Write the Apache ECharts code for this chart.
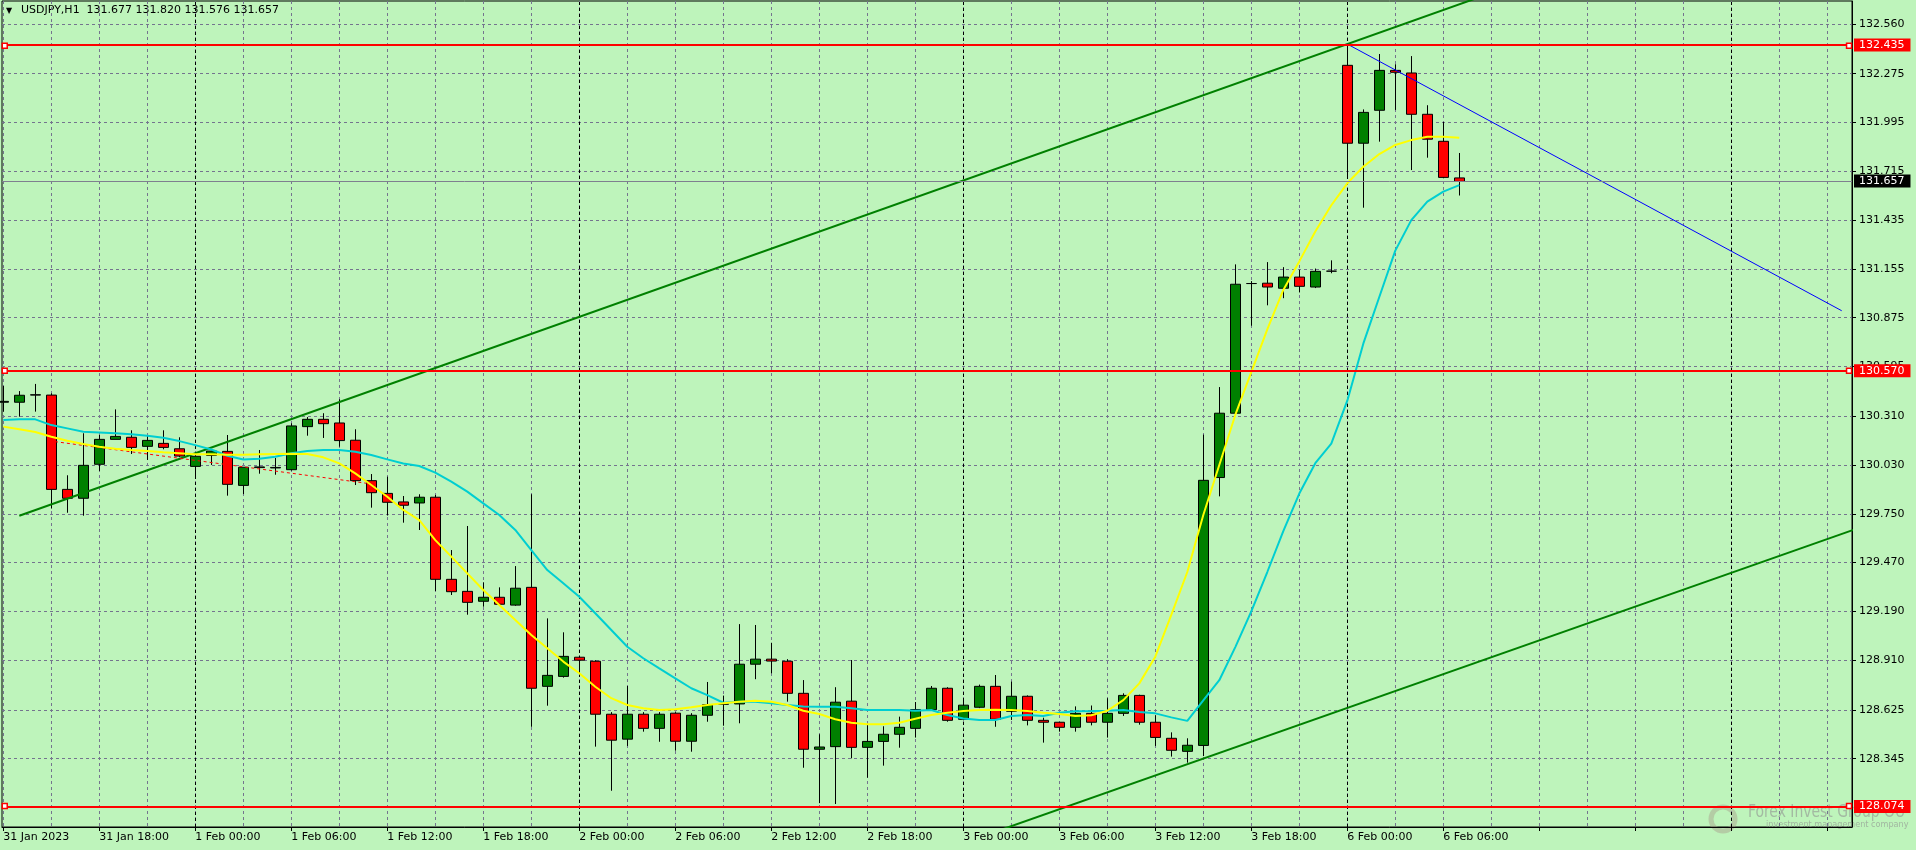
<!DOCTYPE html>
<html><head><meta charset="utf-8">
<script src="https://cdn.jsdelivr.net/npm/echarts@6/dist/echarts.min.js"></script>
<style>html,body{margin:0;padding:0;background:#bef4bb;overflow:hidden}#c{width:1916px;height:850px}</style>
</head><body><div id="c"></div>
<script>
// ---- data (H1 bars, index 0 = 31 Jan 2023 12:00) ----
const opens = [130.390,130.390,130.431,130.431,129.890,129.839,130.034,130.177,130.189,130.137,130.154,130.123,130.022,130.085,130.108,129.913,130.015,130.013,130.003,130.250,130.292,130.271,130.172,129.940,129.867,129.818,129.812,129.845,129.374,129.305,129.248,129.271,129.226,129.328,128.760,128.817,128.927,128.904,128.600,128.457,128.600,128.519,128.606,128.445,128.594,128.657,128.659,128.887,128.916,128.904,128.720,128.399,128.414,128.675,128.410,128.444,128.485,128.519,128.626,128.749,128.571,128.640,128.760,128.617,128.703,128.565,128.554,128.525,128.605,128.554,128.605,128.708,128.554,128.462,128.387,128.421,129.958,130.327,131.071,131.073,131.044,131.108,131.051,131.142,132.323,131.876,132.065,132.294,132.279,132.042,131.887,131.677];
const highs = [130.483,130.454,130.495,130.441,129.971,130.212,130.202,130.349,130.229,130.200,130.229,130.189,130.100,130.112,130.202,130.017,130.116,130.070,130.269,130.305,130.327,130.407,130.235,129.978,129.963,129.852,129.862,129.858,129.542,129.680,129.357,129.328,129.450,129.862,129.150,129.070,128.935,128.910,128.612,128.762,128.612,128.612,128.612,128.606,128.785,128.707,129.117,129.112,129.010,128.916,128.796,128.485,128.755,128.911,128.544,128.531,128.586,128.670,128.762,128.755,128.692,128.770,128.825,128.787,128.708,128.580,128.556,128.645,128.650,128.692,128.720,128.712,128.594,128.496,128.462,130.204,130.477,131.181,131.085,131.194,131.165,131.150,131.157,131.204,132.449,132.070,132.388,132.329,132.376,132.094,131.998,131.820];
const lows = [130.336,130.307,130.336,129.780,129.756,129.739,129.996,130.177,130.093,130.059,130.120,130.075,129.954,130.030,129.854,129.863,129.980,129.974,129.998,130.198,130.185,130.135,129.915,129.785,129.740,129.699,129.657,129.307,129.284,129.171,129.217,129.225,129.222,128.528,128.649,128.810,128.815,128.414,128.161,128.418,128.500,128.442,128.391,128.385,128.557,128.534,128.548,128.801,128.835,128.672,128.293,128.090,128.085,128.347,128.236,128.305,128.408,128.466,128.620,128.557,128.565,128.635,128.528,128.567,128.536,128.437,128.500,128.500,128.536,128.466,128.590,128.540,128.418,128.357,128.322,128.360,129.850,130.320,130.829,130.946,130.987,131.020,131.045,131.130,131.675,131.506,131.885,132.067,131.722,131.793,131.675,131.576];
const closes = [130.395,130.430,130.433,129.890,129.839,130.028,130.177,130.194,130.131,130.171,130.131,130.081,130.080,130.110,129.919,130.017,130.019,130.016,130.254,130.292,130.267,130.170,129.940,129.871,129.816,129.799,129.845,129.374,129.303,129.242,129.271,129.231,129.323,128.749,128.823,128.932,128.910,128.600,128.451,128.600,128.519,128.600,128.445,128.594,128.655,128.661,128.887,128.916,128.905,128.720,128.399,128.412,128.669,128.410,128.444,128.485,128.525,128.627,128.749,128.565,128.652,128.760,128.571,128.703,128.565,128.554,128.525,128.605,128.554,128.605,128.708,128.554,128.467,128.393,128.422,129.942,130.327,131.067,131.071,131.051,131.108,131.055,131.141,131.142,131.876,132.053,132.294,132.283,132.042,131.899,131.680,131.657];
const yellowMA = [130.250,130.235,130.219,130.192,130.169,130.150,130.135,130.123,130.116,130.110,130.103,130.097,130.091,130.091,130.089,130.089,130.091,130.093,130.095,130.093,130.074,130.039,129.982,129.915,129.848,129.772,129.714,129.599,129.504,129.408,129.313,129.227,129.141,129.054,128.978,128.902,128.835,128.758,128.692,128.653,128.634,128.624,128.628,128.640,128.653,128.663,128.672,128.678,128.672,128.653,128.620,128.601,128.571,128.551,128.542,128.542,128.551,128.574,128.596,128.609,128.618,128.624,128.625,128.624,128.618,128.609,128.601,128.590,128.594,128.620,128.681,128.777,128.930,129.170,129.416,129.743,130.030,130.317,130.563,130.808,131.034,131.198,131.370,131.520,131.646,131.741,131.814,131.866,131.894,131.913,131.913,131.908];
const cyanMA = [130.288,130.292,130.292,130.259,130.240,130.221,130.217,130.212,130.206,130.198,130.186,130.167,130.144,130.119,130.083,130.062,130.066,130.077,130.097,130.110,130.116,130.116,130.106,130.087,130.062,130.039,130.024,129.986,129.934,129.877,129.810,129.743,129.657,129.542,129.427,129.351,129.274,129.179,129.083,128.987,128.921,128.863,128.806,128.749,128.710,128.666,128.672,128.672,128.663,128.653,128.645,128.643,128.643,128.634,128.624,128.624,128.624,128.620,128.624,128.596,128.576,128.567,128.567,128.590,128.596,128.590,128.609,128.617,128.618,128.620,128.624,128.613,128.605,128.582,128.562,128.680,128.795,128.985,129.190,129.416,129.651,129.866,130.040,130.153,130.399,130.726,130.994,131.260,131.435,131.541,131.598,131.636];
// trend lines [barIndex, price]
const upperChannel = [[1, 129.739], [96, 132.836]];
const lowerChannel = [[60, 127.861], [116, 129.670]];
const blueTrend = [[84, 132.445], [114.9, 130.915]];
const redDashTrend = [[3.23, 130.164], [22.71, 129.925]];
// horizontal levels
const redLevels = [132.435, 130.570, 128.074];
const lastPrice = 131.657;
const levelAnchorBars = [0.09, 115.36];
// axis ticks / labels
const yTickValues = [128.345,128.625,128.910,129.190,129.470,129.750,130.030,130.310,130.595,130.875,131.155,131.435,131.715,131.995,132.275,132.560];
const xLabelBars = [0,6,12,18,24,30,36,42,48,54,60,66,72,78,84,90];
const xLabelTexts = ['31 Jan 2023','31 Jan 18:00','1 Feb 00:00','1 Feb 06:00','1 Feb 12:00','1 Feb 18:00','2 Feb 00:00','2 Feb 06:00','2 Feb 12:00','2 Feb 18:00','3 Feb 00:00','3 Feb 06:00','3 Feb 12:00','3 Feb 18:00','6 Feb 00:00','6 Feb 06:00'];
const xTickBars = [0,6,12,18,24,30,36,42,48,54,60,66,72,78,84,90,96,102,108,114];
const xGridBars = [0,3,6,9,12,15,18,21,24,27,30,33,36,39,42,45,48,51,54,57,60,63,66,69,72,75,78,81,84,87,90,93,96,99,102,105,108,111,114];
const daySeparatorBars = [12, 36, 60, 84, 108];
const headerText = 'USDJPY,H1  131.677 131.820 131.576 131.657';

// ---- chart ----
const FONT = 'DejaVu Sans';
const BG = '#bef4bb';
const GRIDC = '#74748e';
const xMin = -0.081, xMax = 115.544, yMin = 127.953, yMax = 132.692;
const chart = echarts.init(document.getElementById('c'));
const candleData = opens.map((o, i) => [i, o, closes[i], lows[i], highs[i]]);
const labelMap = {};
xLabelBars.forEach((b, k) => labelMap[b] = xLabelTexts[k]);

function levelLine(v, bg, lineColor, w) {
  return {
    yAxis: v,
    lineStyle: {color: lineColor, width: w, type: 'solid'},
    label: {show: true, position: 'end', distance: 2, formatter: () => v.toFixed(3),
      color: '#ffffff', backgroundColor: bg, fontFamily: FONT, fontSize: 11,
      padding: [1, 6, 0, 5], lineHeight: 12}
  };
}

const option = {
  animation: false,
  backgroundColor: BG,
  grid: {left: 2, top: 1, right: 64, bottom: 23, show: true, borderColor: '#000', borderWidth: 1, backgroundColor: 'transparent'},
  xAxis: [
    {type: 'value', min: xMin, max: xMax, position: 'bottom',
     axisLine: {show: true, onZero: false, lineStyle: {color: '#000', width: 1}},
     axisTick: {show: true, customValues: xTickBars, length: 4, lineStyle: {color: '#000'}},
     axisLabel: {customValues: xLabelBars, formatter: v => labelMap[v] || '', align: 'left', margin: 5,
       color: '#000', fontFamily: FONT, fontSize: 11},
     splitLine: {show: false}},
    {type: 'value', min: xMin, max: xMax, position: 'bottom',
     axisLine: {show: false}, axisTick: {show: false, customValues: xGridBars},
     axisLabel: {show: false},
     splitLine: {show: true, lineStyle: {color: GRIDC, width: 1, type: [3, 3]}}}
  ],
  yAxis: {type: 'value', position: 'right', min: yMin, max: yMax, scale: true,
    axisLine: {show: true, onZero: false, lineStyle: {color: '#000', width: 1}},
    axisTick: {show: true, customValues: yTickValues, length: 4, lineStyle: {color: '#000'}},
    axisLabel: {customValues: yTickValues, formatter: v => v.toFixed(3), margin: 7, color: '#000', fontFamily: FONT, fontSize: 11},
    splitLine: {show: true, lineStyle: {color: GRIDC, width: 1, type: [3, 3]}}},
  series: [
    {type: 'line', name: 'sep', data: [], z: 1, silent: true,
     markLine: {silent: true, z: 1, symbol: ['none', 'none'], label: {show: false},
       lineStyle: {color: '#000', width: 1, type: [3, 3]},
       data: daySeparatorBars.map(b => ({xAxis: b}))}},
    {type: 'candlestick', name: 'USDJPY', data: candleData, barWidth: 10, z: 2, clip: true,
     itemStyle: {color: '#008000', color0: '#ff0000', borderColor: '#000', borderColor0: '#000', borderWidth: 1}},
    {type: 'line', data: upperChannel, showSymbol: false, clip: true, z: 3, lineStyle: {color: '#008000', width: 2}},
    {type: 'line', data: lowerChannel, showSymbol: false, clip: true, z: 3, lineStyle: {color: '#008000', width: 2}},
    {type: 'line', data: blueTrend, showSymbol: false, clip: true, z: 3, lineStyle: {color: '#0000ff', width: 1}},
    {type: 'line', data: redDashTrend, showSymbol: false, clip: true, z: 3, lineStyle: {color: '#ff0000', width: 1, type: [3, 3]}},
    {type: 'line', data: cyanMA.map((v, i) => [i, v]), showSymbol: false, clip: true, z: 4, lineStyle: {color: '#00ced1', width: 2}},
    {type: 'line', data: yellowMA.map((v, i) => [i, v]), showSymbol: false, clip: true, z: 4, lineStyle: {color: '#ffff00', width: 2}},
    {type: 'line', name: 'levels', data: [], z: 6, silent: true,
     markLine: {silent: true, z: 6, symbol: ['none', 'none'],
       data: [levelLine(lastPrice, '#000000', '#7f7f8f', 1)].concat(redLevels.map(v => levelLine(v, '#ff0000', '#ff0000', 2)))}},
    {type: 'scatter', z: 7, silent: true, symbol: 'rect', symbolSize: 5,
     itemStyle: {color: '#ffffff', borderColor: '#ff0000', borderWidth: 1.5, opacity: 1},
     data: redLevels.flatMap(v => levelAnchorBars.map(b => [b, v]))}
  ],
  graphic: [
    {type: 'text', left: 6, top: 7, style: {text: '▼', fill: '#000', font: '8px "DejaVu Sans"'}},
    {type: 'text', left: 21, top: 5, style: {text: headerText, fill: '#000', font: '11px "DejaVu Sans"'}},
    {type: 'circle', shape: {cx: 1723, cy: 819, r: 12}, style: {fill: 'none', stroke: '#a89c8c', lineWidth: 5, opacity: 0.45}, z: 0},
    {type: 'text', x: 1748, y: 803, scaleX: 0.86, style: {text: 'Forex Invest Group OÜ', fill: '#97a097', font: '18px "DejaVu Sans Condensed"', opacity: 0.7}, z: 0},
    {type: 'text', x: 1766, y: 820, style: {text: 'investment management company', fill: '#97a097', font: '9px "DejaVu Sans Condensed"', opacity: 0.75}, z: 0}
  ]
};
chart.setOption(option);
</script></body></html>
